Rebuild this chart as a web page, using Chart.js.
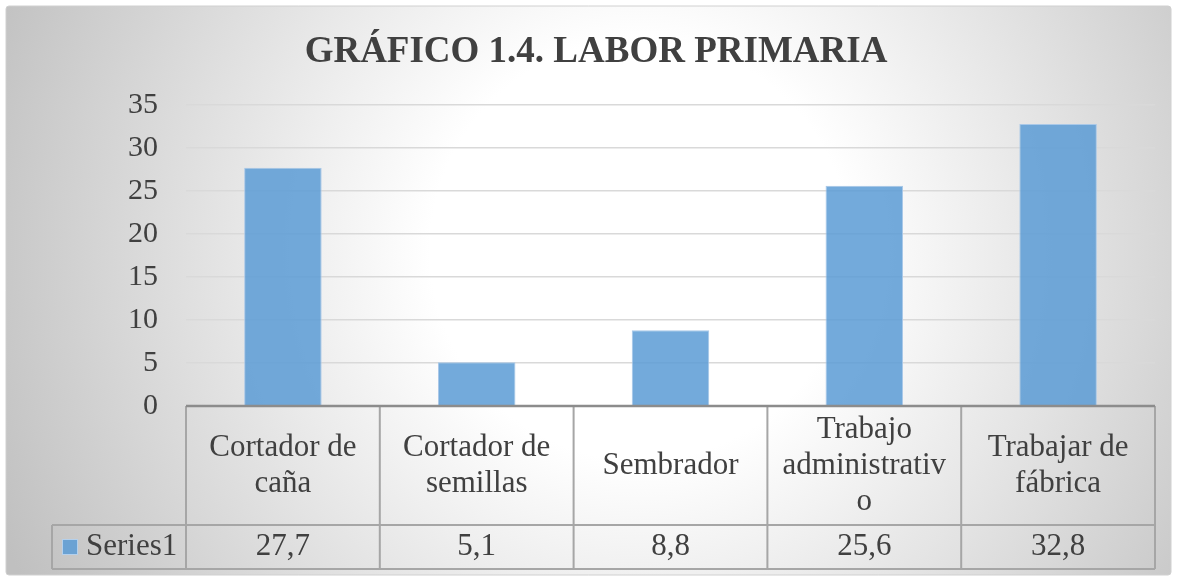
<!DOCTYPE html>
<html>
<head>
<meta charset="utf-8">
<script src="https://cdn.jsdelivr.net/npm/chart.js@4.4.0/dist/chart.umd.min.js"></script>
<style>
  html, body { margin: 0; background: #fff; }
</style>
</head>
<body>
<canvas id="laborChart" width="1177" height="577"></canvas>
<script>
// Datos del gráfico
const categories = [
    ['Cortador de', 'caña'],
    ['Cortador de', 'semillas'],
    ['Sembrador'],
    ['Trabajo', 'administrativ', 'o'],
    ['Trabajar de', 'fábrica']
];
const series1 = [27.7, 5.1, 8.8, 25.6, 32.8];
const seriesName = 'Series1';
const yTicks = [0, 5, 10, 15, 20, 25, 30, 35];
const title = 'GRÁFICO 1.4. LABOR PRIMARIA';

const barColor = 'rgba(91, 155, 213, 0.85)';
const textColor = '#404040';
const serif = '"Liberation Serif", "Times New Roman", serif';

// Fondo con degradado radial y marco
const fondo = {
    id: 'fondo',
    beforeDraw(chart) {
        const c = chart.ctx;
        c.save();
        c.fillStyle = '#fff';
        c.fillRect(0, 0, chart.width, chart.height);
        const g = c.createRadialGradient(640, 250, 0, 640, 250, 700);
        g.addColorStop(0, '#ffffff');
        g.addColorStop(0.3, '#ffffff');
        g.addColorStop(1, '#c0c0c0');
        c.fillStyle = g;
        c.beginPath();
        c.roundRect(6, 6, chart.width - 12, chart.height - 8, 3);
        c.fill();
        c.strokeStyle = '#d0d0d0';
        c.lineWidth = 1;
        c.stroke();
        c.restore();
    }
};

// Título y tabla de datos
const tabla = {
    id: 'tabla',
    afterDraw(chart) {
        const c = chart.ctx;
        const x = chart.scales.x;
        const area = chart.chartArea;
        const half = (x.getPixelForValue(1) - x.getPixelForValue(0)) / 2;
        const top = area.bottom;
        const rowLine = top + 119;
        const bottom = top + 163;
        const legendLeft = 52;

        c.save();
        // título
        c.fillStyle = textColor;
        c.font = 'bold 37px ' + serif;
        c.textAlign = 'center';
        c.textBaseline = 'alphabetic';
        c.fillText(title, 596, 62);

        // líneas de la tabla
        c.strokeStyle = '#a6a6a6';
        c.lineWidth = 2;
        c.beginPath();
        c.moveTo(legendLeft, rowLine); c.lineTo(area.right, rowLine);
        c.moveTo(legendLeft, bottom); c.lineTo(area.right, bottom);
        c.moveTo(legendLeft, rowLine); c.lineTo(legendLeft, bottom);
        for (let i = 0; i <= categories.length; i++) {
            const px = x.getPixelForValue(i) - half;
            c.moveTo(px, top); c.lineTo(px, bottom);
        }
        c.stroke();

        // eje horizontal
        c.strokeStyle = '#8c8c8c';
        c.lineWidth = 2.5;
        c.beginPath();
        c.moveTo(area.left, top); c.lineTo(area.right, top);
        c.stroke();

        // textos
        c.font = '31px ' + serif;
        c.textBaseline = 'middle';
        const headMid = (top + rowLine) / 2;
        const valMid = (rowLine + bottom) / 2;
        categories.forEach((lines, i) => {
            const px = x.getPixelForValue(i);
            const start = headMid - (lines.length - 1) * 18;
            lines.forEach((t, j) => c.fillText(t, px, start + j * 36));
            c.fillText(series1[i].toFixed(1).replace('.', ','), px, valMid);
        });

        // leyenda
        c.fillStyle = barColor;
        c.fillRect(62, valMid - 8, 16, 16);
        c.strokeStyle = '#b4d0ec';
        c.lineWidth = 1;
        c.strokeRect(62.5, valMid - 7.5, 15, 15);
        c.fillStyle = textColor;
        c.textAlign = 'left';
        c.fillText(seriesName, 86, valMid);
        c.restore();
    }
};

const ctx = document.getElementById('laborChart').getContext('2d');
const barChart = new Chart(ctx, {
    type: 'bar',
    data: {
        labels: categories,
        datasets: [{
            label: seriesName,
            data: series1,
            backgroundColor: barColor,
            borderColor: '#a9c8e8',
            borderWidth: 1,
            categoryPercentage: 1,
            barPercentage: 0.4
        }]
    },
    options: {
        responsive: false,
        animation: false,
        layout: { padding: { left: 0, right: 22, top: 105, bottom: 171 } },
        plugins: {
            legend: { display: false },
            title: { display: false },
            tooltip: { enabled: false }
        },
        scales: {
            x: { display: false, offset: true },
            y: {
                min: yTicks[0],
                max: yTicks[yTicks.length - 1],
                afterBuildTicks(s) { s.ticks = yTicks.map(v => ({ value: v })); },
                afterFit(s) { s.width = 186; },
                ticks: {
                    padding: 28,
                    color: textColor,
                    font: { family: serif, size: 30 }
                },
                grid: { color: '#d9d9d9', lineWidth: 1.5, drawTicks: false },
                border: { display: false }
            }
        }
    },
    plugins: [fondo, tabla]
});
</script>
</body>
</html>
